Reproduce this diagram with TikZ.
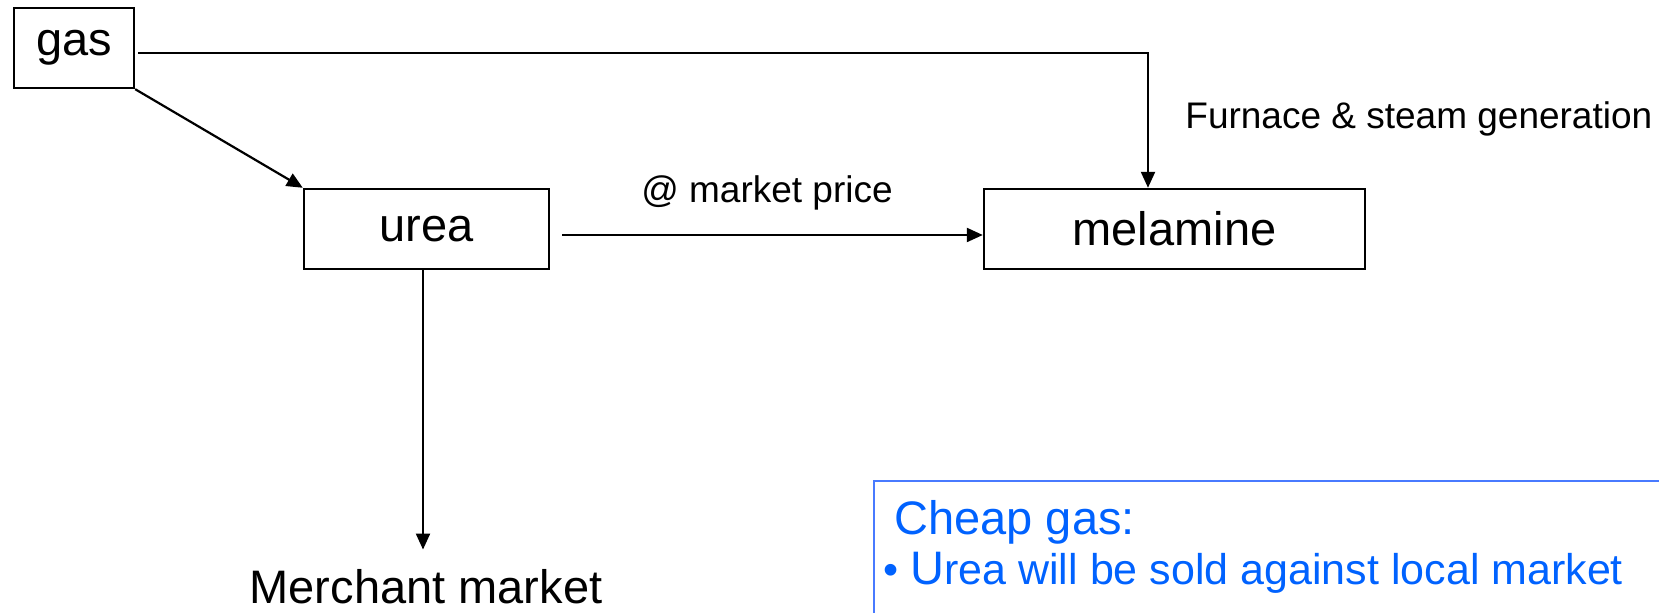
\documentclass[tikz,border=0pt]{standalone}
\usepackage{fontspec}
\setmainfont{Liberation Sans}
\usetikzlibrary{arrows.meta}
\definecolor{noteblue}{RGB}{0,98,255}
\definecolor{noteline}{RGB}{72,122,255}
\begin{document}
\begin{tikzpicture}[x=0.5pt,y=-0.5pt,
  box/.style={draw,line width=1.2pt,inner sep=0pt,font=\fontsize{23.5}{28}\selectfont},
  lbl/.style={inner sep=0pt,font=\fontsize{18.5}{22}\selectfont},
  arr/.style={line width=1.1pt,-{Triangle[length=8pt,width=7pt]}},
  notetext/.style={anchor=base west,inner sep=0pt,text=noteblue},
]
\useasboundingbox (0,0) rectangle (1659,613);
\clip (0,0) rectangle (1659,613);
\node[box,minimum width=60pt,minimum height=40pt] (gas) at (74,48) {gas};
\node[box,minimum width=122.5pt,minimum height=40pt] (urea) at (426.5,229) {urea};
\node[box,minimum width=190.5pt,minimum height=40pt] (melamine) at (1174.5,229) {melamine};
\node[inner sep=0pt,anchor=base,font=\fontsize{23.5}{28}\selectfont] (merchant) at (426,604) {Merchant market};
\node[lbl,anchor=base west] (furnace) at (1185,129) {Furnace \& steam generation};
\node[lbl,anchor=base] (price) at (767,203) {@ market price};

\draw[arr] ([xshift=1.5pt,yshift=-2.5pt]gas.east) -| ([xshift=-13.25pt]melamine.north);
\draw[arr] (gas.south east) -- (urea.north west);
\draw[arr] ([xshift=6pt,yshift=-3pt]urea.east) -- ([yshift=-3pt]melamine.west);
\draw[arr,shorten >=10pt] ([xshift=-1.75pt]urea.south) -- ([xshift=-1.5pt]merchant.north);

\draw[noteline,line width=1pt] (874,481) rectangle (1700,700);
\node[notetext,font=\fontsize{23.5}{28}\selectfont] (cheap) at (894,535) {Cheap gas:};
\node[notetext,font=\fontsize{21.5}{26}\selectfont] (urealine) at (883,585) {\textbullet\ {\fontsize{23.5}{28}\selectfont U}rea will be sold against local market};
\end{tikzpicture}
\end{document}
